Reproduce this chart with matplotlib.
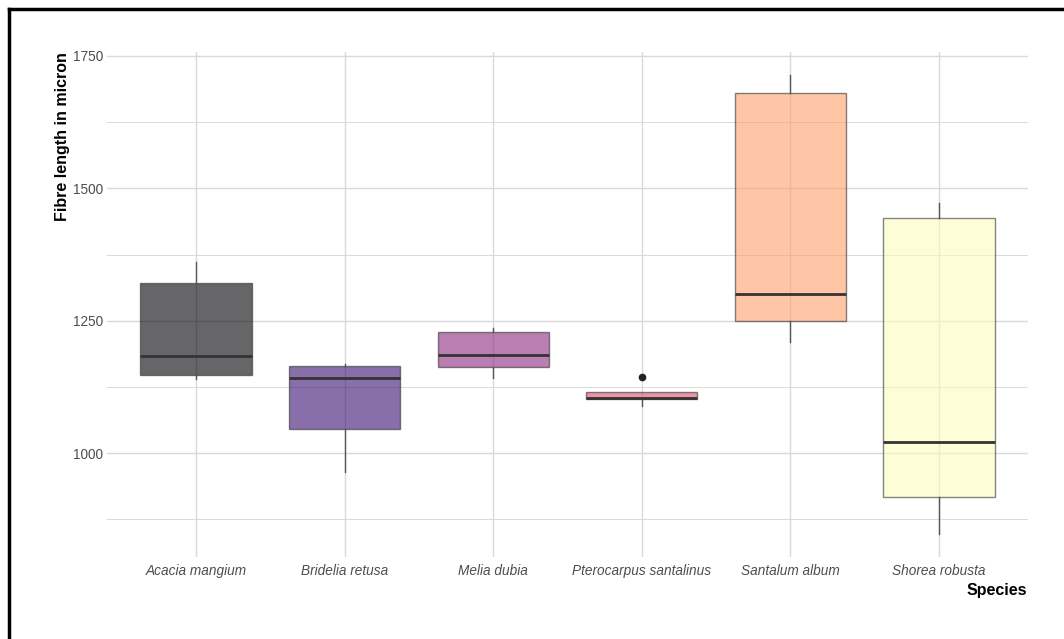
import matplotlib.pyplot as plt
from matplotlib.lines import Line2D

species = ['Acacia mangium', 'Bridelia retusa', 'Melia dubia',
           'Pterocarpus santalinus', 'Santalum album', 'Shorea robusta']
whisker_low = [1140, 965, 1142, 1090, 1210, 848]
q1 = [1148, 1046, 1163, 1103, 1250, 918]
median = [1184, 1142, 1186, 1105, 1301, 1022]
q3 = [1322, 1165, 1229, 1116, 1680, 1444]
whisker_high = [1361, 1169, 1237, 1116, 1714, 1473]
outliers = [[], [], [], [1144], [], []]
fills = ['#000004', '#3B0F70', '#8C2981', '#DE4968', '#FE9F6D', '#FCFDBF']

plt.rcParams['font.family'] = ['Liberation Sans', 'DejaVu Sans']

fig = plt.figure(figsize=(10.64, 6.39), dpi=100)
W, H = 1064, 639
ax = fig.add_axes([107 / W, 1 - 557 / H, (1028 - 107) / W, (557 - 52) / H])

stats = []
for i, name in enumerate(species):
    stats.append({'label': name, 'whislo': whisker_low[i], 'q1': q1[i],
                  'med': median[i], 'q3': q3[i], 'whishi': whisker_high[i],
                  'fliers': outliers[i]})

pos = list(range(1, len(species) + 1))
bp = ax.bxp(stats, positions=pos, widths=0.75, patch_artist=True,
            showcaps=False,
            boxprops=dict(edgecolor='#333333', linewidth=1.0),
            medianprops=dict(color='#333333', linewidth=2.0),
            whiskerprops=dict(color='#555555', linewidth=1.0),
            flierprops=dict(marker='o', markerfacecolor='#222222',
                            markeredgecolor='#222222', markersize=4.5))
for patch, c in zip(bp['boxes'], fills):
    patch.set_facecolor(c)
    patch.set_alpha(0.6)
    patch.set_edgecolor((0.2, 0.2, 0.2, 0.8))

ax.set_xlim(0.4, 6.6)
ax.set_ylim(804, 1757.5)
ax.set_yticks([1000, 1250, 1500, 1750])
ax.set_yticks([875, 1125, 1375, 1625], minor=True)
ax.set_axisbelow(True)
ax.grid(True, which='major', color='#d9d9d9', linewidth=1.0)
ax.grid(True, which='minor', axis='y', color='#d9d9d9', linewidth=0.7)
for s in ax.spines.values():
    s.set_visible(False)
ax.tick_params(axis='both', which='both', length=0, colors='#4d4d4d',
               labelsize=9.8, pad=3)
ax.tick_params(axis='x', pad=5)
for t in ax.get_xticklabels():
    t.set_fontstyle('italic')

ax.set_ylabel('Fibre length in micron', fontsize=11.5, fontweight='bold',
              color='black', loc='top')
ax.yaxis.set_label_coords(-37 / (1028 - 107), 1.0)
fig.text(1027 / W, 1 - 590 / H, 'Species', ha='right', va='center',
         fontsize=11.5, fontweight='bold', color='black')

# frame around the screenshot
fig.add_artist(Line2D([9 / W, 1], [1 - 9 / H, 1 - 9 / H], color='black',
                      linewidth=2.5, transform=fig.transFigure))
fig.add_artist(Line2D([9 / W, 9 / W], [0, 1 - 9 / H], color='black',
                      linewidth=2.5, transform=fig.transFigure))

fig.savefig('out.png', dpi=100)
